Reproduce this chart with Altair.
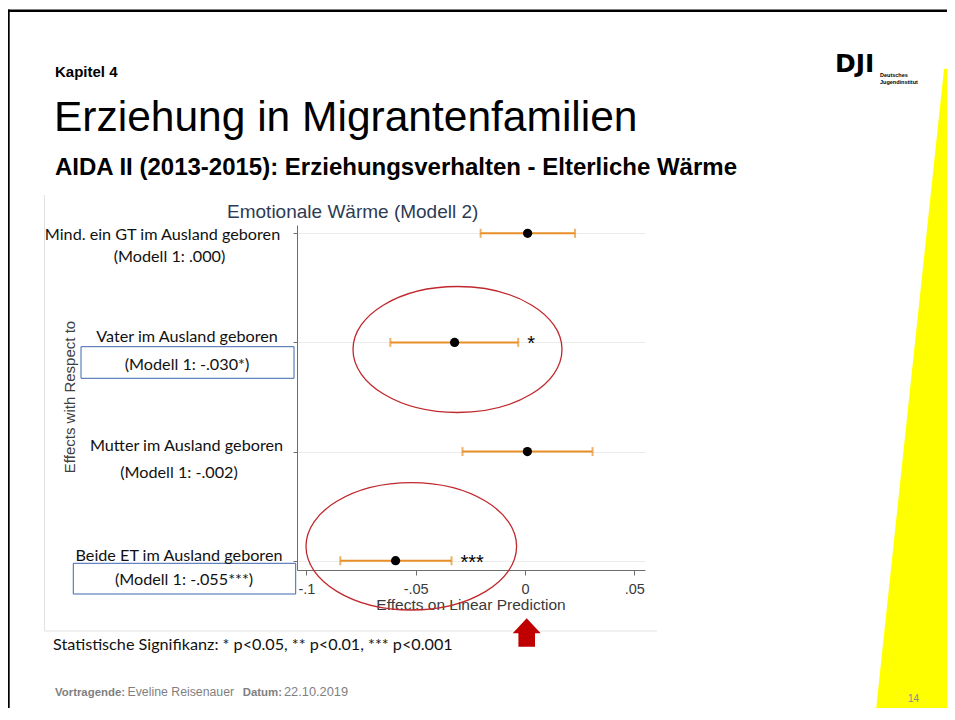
import altair as alt
import pandas as pd

# ---------------- data ----------------
labels = ["Mind. ein GT im Ausland geboren", "Vater im Ausland geboren",
          "Mutter im Ausland geboren", "Beide ET im Ausland geboren"]
model1 = ["(Modell 1: .000)", "(Modell 1: -.030*)", "(Modell 1: -.002)", "(Modell 1: -.055***)"]
estimate = [0.0012, -0.0322, 0.0011, -0.0592]
ci_low = [-0.0203, -0.0616, -0.0286, -0.0845]
ci_high = [0.0229, -0.0031, 0.0309, -0.0336]
stars = ["", "*", "", "***"]
rows = [4, 3, 2, 1]
tick_values = [-0.1, -0.05, 0, 0.05]
tick_labels = ["-.1", "-.05", "0", ".05"]

slide_kapitel = "Kapitel 4"
slide_title = "Erziehung in Migrantenfamilien"
slide_subtitle = "AIDA II (2013-2015): Erziehungsverhalten - Elterliche Wärme"
chart_title = "Emotionale Wärme (Modell 2)"
y_title = "Effects with Respect to"
x_title = "Effects on Linear Prediction"
signif_note = "Statistische Signifikanz: * p<0.05, ** p<0.01, *** p<0.001"
footer_parts = ["Vortragende:", "Eveline Reisenauer", "Datum:", "22.10.2019"]
footer_bold = [True, False, True, False]
page_number = "14"
logo_text = "DJI"
logo_sub = ["Deutsches", "Jugendinstitut"]

df = pd.DataFrame({"label": labels, "model1": model1, "estimate": estimate,
                   "lo": ci_low, "hi": ci_high, "stars": stars, "row": rows})

# ---------------- layout (page pixels) ----------------
PX0, PY0 = 297, 225          # page position of plot-area origin
W, H = 348, 345
CANVAS_W, CANVAS_H = 939, 700


def X(px):
    return px - PX0


def Y(py):
    return py - PY0


one = pd.DataFrame({"k": [0]})
SANS = "Liberation Sans"
CAL = "Lato"


def txt(s, px, py, size, font=SANS, color="black", align="left", weight="normal",
        baseline="alphabetic", angle=0):
    kw = dict(align=align, baseline=baseline, fontSize=size, font=font, color=color,
              fontWeight=weight)
    if angle:
        kw["angle"] = angle
    return alt.Chart(pd.DataFrame({"t": [s]})).mark_text(**kw).encode(
        x=alt.value(X(px)), y=alt.value(Y(py)), text="t:N")


def shape(path, px, py, fill=None, stroke=None, sw=1.0):
    kw = dict(shape=path, size=4, opacity=1)
    if fill:
        kw.update(filled=True, fill=fill, strokeWidth=0)
    else:
        kw.update(filled=False, stroke=stroke, strokeWidth=sw, fillOpacity=0)
    return alt.Chart(one).mark_point(**kw).encode(x=alt.value(X(px)), y=alt.value(Y(py)))


def hline(x1, x2, py, color, sw):
    return alt.Chart(one).mark_rule(color=color, strokeWidth=sw).encode(
        x=alt.value(X(x1)), x2=alt.value(X(x2)), y=alt.value(Y(py)))


def vline(px, y1, y2, color, sw):
    return alt.Chart(one).mark_rule(color=color, strokeWidth=sw).encode(
        x=alt.value(X(px)), y=alt.value(Y(y1)), y2=alt.value(Y(y2)))


def box(x1, x2, y1, y2, color):
    return alt.Chart(one).mark_rect(fillOpacity=0, stroke=color, strokeWidth=1).encode(
        x=alt.value(X(x1)), x2=alt.value(X(x2)), y=alt.value(Y(y1)), y2=alt.value(Y(y2)))


# ---------------- scales / axes ----------------
label_expr = " : ".join(f"datum.value == {v} ? '{l}'" for v, l in zip(tick_values, tick_labels)) + " : ''"
xscale = alt.Scale(domain=[-0.1043, 0.0549], nice=False, zero=False)
yscale = alt.Scale(domain=[0.915, 4.076], nice=False, zero=False)
x_axis = alt.Axis(values=tick_values, labelExpr=label_expr, title=None, grid=False,
                  domainColor="#6e6e6e", tickColor="#6e6e6e", tickSize=5,
                  labelFont=SANS, labelFontSize=14.5, labelColor="#3a3a3a", labelPadding=7)
y_axis = alt.Axis(values=rows, labels=False, title=None, grid=True, gridColor="#ececec",
                  domainColor="#6e6e6e", tickColor="#6e6e6e", tickSize=4)

ORANGE = "#e98f27"
base = alt.Chart(df)
errbar = base.mark_rule(color=ORANGE, strokeWidth=2).encode(
    x=alt.X("lo:Q", scale=xscale, axis=x_axis), x2="hi:Q",
    y=alt.Y("row:Q", scale=yscale, axis=y_axis))
cap_lo = base.mark_tick(color=ORANGE, orient="vertical", size=9, thickness=2).encode(
    x=alt.X("lo:Q", scale=xscale, axis=x_axis), y=alt.Y("row:Q", scale=yscale, axis=y_axis))
cap_hi = base.mark_tick(color=ORANGE, orient="vertical", size=9, thickness=2).encode(
    x=alt.X("hi:Q", scale=xscale, axis=x_axis), y=alt.Y("row:Q", scale=yscale, axis=y_axis))
points = base.mark_circle(color="black", size=85, opacity=1).encode(
    x=alt.X("estimate:Q", scale=xscale, axis=x_axis), y=alt.Y("row:Q", scale=yscale, axis=y_axis))
star_txt = base.mark_text(align="left", baseline="alphabetic", dx=9, dy=8, fontSize=20,
                          font=SANS, color="black").encode(
    x=alt.X("hi:Q", scale=xscale, axis=x_axis), y=alt.Y("row:Q", scale=yscale, axis=y_axis),
    text="stars:N")

layers = []
# yellow decoration on the right
layers.append(shape("M 0 0 L 12 -2 L 12 660 L -70 660 Z", 944, 69, fill="#ffff00"))
# slide frame
layers.append(hline(7, 953, 10.7, "black", 2.6))
layers.append(vline(8.6, 9.5, 720, "black", 2.2))
# chart image frame
layers.append(vline(44.5, 195, 631, "#e2e2e2", 1))
layers.append(hline(44.5, 657, 631, "#e2e2e2", 1))
# slide texts
layers.append(txt(slide_kapitel, 55, 77, 15, weight="bold"))
layers.append(txt(slide_title, 54, 131, 42.5))
layers.append(txt(slide_subtitle, 55, 175, 24, weight="bold"))
layers.append(txt(logo_text, 835, 72, 25, font="DejaVu Sans", weight="bold"))
layers.append(txt(logo_sub[0], 880, 76.5, 5.5, weight="bold"))
layers.append(txt(logo_sub[1], 880, 84, 5.5, weight="bold"))
# chart
layers += [errbar, cap_lo, cap_hi, points, star_txt]
layers.append(txt(chart_title, 352.7, 217.5, 19, color="#2e3b55", align="center"))
layers.append(txt(x_title, 471, 609.5, 15.5, color="#3a3a3a", align="center"))
layers.append(txt(y_title, 70, 397, 15, color="#404040", align="center", baseline="middle", angle=270))
# row label text boxes
layers.append(box(81, 294, 346.7, 378.3, "#3f66b0"))
layers.append(box(73.3, 295.7, 563.3, 594, "#3f66b0"))
row_layout = [(162.5, 240, 169.5, 262), (187, 342.3, 187, 370),
              (186.5, 450.7, 179, 478), (179, 560.7, 184, 585)]
for lab, m1, (cx1, b1, cx2, b2) in zip(labels, model1, row_layout):
    layers.append(txt(lab, cx1, b1, 16.2, font=CAL, color="#111111", align="center"))
    layers.append(txt(m1, cx2, b2, 16.2, font=CAL, color="#111111", align="center"))
# red annotations
layers.append(shape("M -104.5 0 A 104.5 63 0 1 0 104.5 0 A 104.5 63 0 1 0 -104.5 0 Z",
                    457.5, 349.5, stroke="#c0282d", sw=1.3))
layers.append(shape("M -105.3 0 A 105.3 63.7 0 1 0 105.3 0 A 105.3 63.7 0 1 0 -105.3 0 Z",
                    411.3, 546.3, stroke="#c0282d", sw=1.3))
layers.append(shape("M 0 -13.7 L 14 1.3 L 8.3 1.3 L 8.3 14.7 L -8.3 14.7 L -8.3 1.3 L -14 1.3 Z",
                    526.7, 632, fill="#c00000"))
# notes and footer
layers.append(txt(signif_note, 53, 650, 16.2, font=CAL, color="#111111"))
footer_x = [55, 127.5, 242.7, 284]
footer_size = [11.4, 12.3, 11.4, 12.8]
for s, b, fx, fs in zip(footer_parts, footer_bold, footer_x, footer_size):
    layers.append(txt(s, fx, 696, fs, color="#7f7f7f", weight="bold" if b else "normal"))
layers.append(txt(page_number, 913.5, 702, 10, color="#8a8a8a", align="center"))

chart = alt.layer(*layers).properties(
    width=W, height=H,
    padding={"left": PX0 - 8, "top": PY0 - 8, "right": CANVAS_W - (PX0 - 8) - W,
             "bottom": CANVAS_H - (PY0 - 8) - H},
    autosize=alt.AutoSizeParams(type="none"),
    background="white",
).configure_view(strokeWidth=0)

chart.save("out.html", embed_options={"renderer": "svg", "actions": False})
